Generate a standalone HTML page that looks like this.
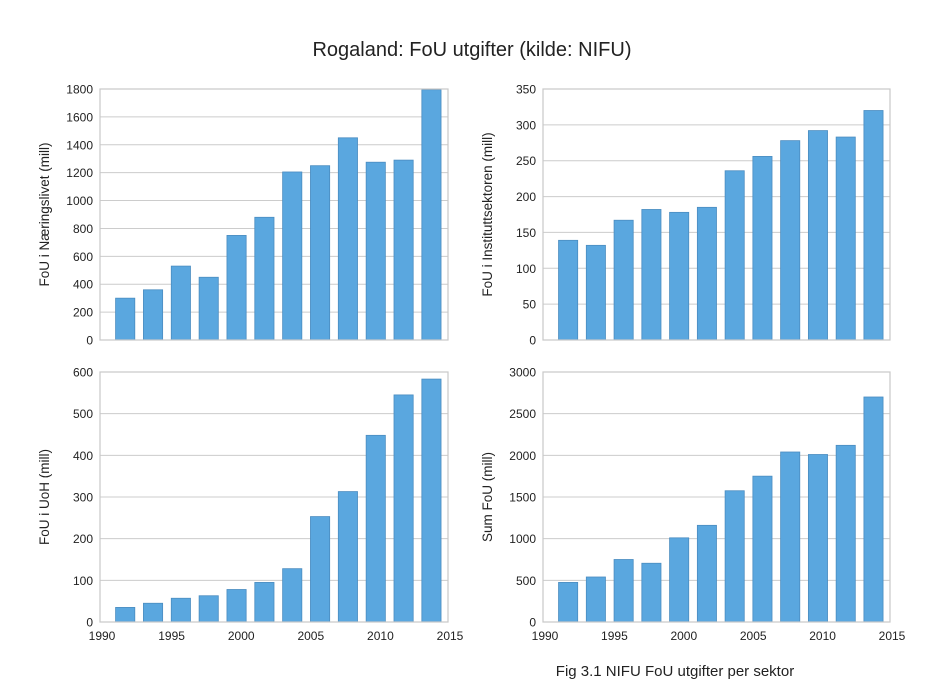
<!DOCTYPE html>
<html><head><meta charset="utf-8"><style>
body{margin:0;background:#fff;font-family:"Liberation Sans",Arial,sans-serif;}
svg text{font-family:"Liberation Sans",Arial,sans-serif;fill:#222;}
</style></head><body>
<svg id="c" width="944" height="686" xmlns="http://www.w3.org/2000/svg">
<text x="472" y="56" text-anchor="middle" font-size="20">Rogaland: FoU utgifter (kilde: NIFU)</text>
<text x="675" y="676" text-anchor="middle" font-size="15">Fig 3.1 NIFU FoU utgifter per sektor</text>
</svg>
<script>
const years=[1991,1993,1995,1997,1999,2001,2003,2005,2007,2009,2011,2013];
const naering=[300,360,530,450,750,880,1205,1250,1450,1275,1290,1795];
const institutt=[139,132,167,182,178,185,236,256,278,292,283,320];
const uoh=[35,45,57,63,78,95,128,253,313,448,545,583];
const sumFou=[475,540,750,705,1010,1160,1575,1750,2040,2010,2120,2700];
const xTicks=[1990,1995,2000,2005,2010,2015];
const svg=document.getElementById('c');
const NS='http://www.w3.org/2000/svg';
function mk(t,a){const e=document.createElementNS(NS,t);for(const k in a)e.setAttribute(k,a[k]);svg.appendChild(e);return e;}
const panels=[
 {vals:naering,x0:100,x1:448,y0:89,y1:340,max:1800,step:200,label:'FoU i Næringslivet (mill)',name:'naeringsliv',xl:false},
 {vals:institutt,x0:543,x1:890,y0:89,y1:340,max:350,step:50,label:'FoU i Instituttsektoren (mill)',name:'institutt',xl:false},
 {vals:uoh,x0:100,x1:448,y0:372,y1:622,max:600,step:100,label:'FoU i UoH (mill)',name:'uoh',xl:true},
 {vals:sumFou,x0:543,x1:890,y0:372,y1:622,max:3000,step:500,label:'Sum FoU (mill)',name:'sum',xl:true}
];
panels.forEach(p=>{
 const xs=v=>p.x0+(v-1990)/25*(p.x1-p.x0);
 const ys=v=>p.y1-v/p.max*(p.y1-p.y0);
 for(let v=0;v<=p.max;v+=p.step){
  const g=mk('line',{x1:p.x0,x2:p.x1,y1:ys(v),y2:ys(v),stroke:'#cccccc','stroke-width':1});
  
  
  const t=mk('text',{x:p.x0-7,y:ys(v)+4.5,'text-anchor':'end','font-size':12});
  t.textContent=v;
  
  
 }
 p.vals.forEach((v,i)=>{
  const r=mk('rect',{x:xs(years[i]+0.12),y:ys(v),width:xs(years[i]+1.5)-xs(years[i]+0.12),height:p.y1-ys(v),fill:'#5aa7df',stroke:'#4a8cc0','stroke-width':0.8});
  
  
 });
 const f=mk('rect',{x:p.x0,y:p.y0,width:p.x1-p.x0,height:p.y1-p.y0,fill:'none',stroke:'#c8c8c8','stroke-width':1.2});
 
 
 if(p.xl){xTicks.forEach(v=>{
  const t=mk('text',{x:xs(v)+2,y:p.y1+18,'text-anchor':'middle','font-size':12});
  t.textContent=v;
  
  
 });}
 const cy=(p.y0+p.y1)/2, cx=p.x0-51;
 const l=mk('text',{x:cx,y:cy,'text-anchor':'middle','font-size':13.5,transform:`rotate(-90 ${cx} ${cy})`});
 l.textContent=p.label;
 
 
});
</script>
</body></html>
